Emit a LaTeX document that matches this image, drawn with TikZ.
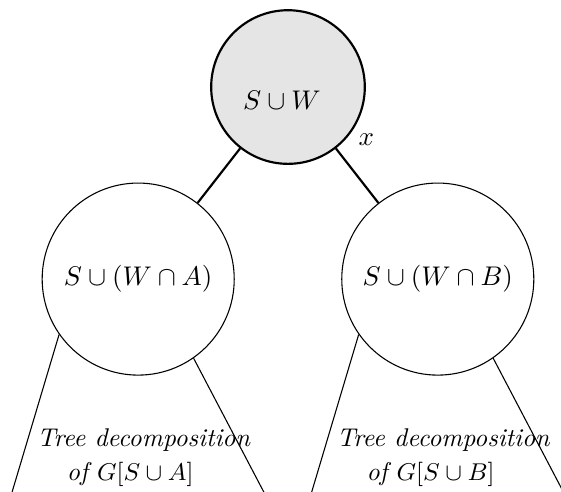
\documentclass[tikz,border=0pt]{standalone}
\usepackage{tikz}
\usetikzlibrary{positioning}
\definecolor{rootgray}{gray}{0.9}

\begin{document}
\begin{tikzpicture}[
  bag/.style={draw, circle, minimum size=#1, inner sep=0pt},
  rootbag/.style={bag=2cm, thick, fill=rootgray},
  childbag/.style={bag=2.5cm},
  treeedge/.style={thick},
  subtree/.style={thin},
  tdtext/.style={font=\fontsize{9.5}{12.6}\selectfont\itshape, align=left}
]
\useasboundingbox (-3.749,1.133) rectangle (3.554,-5.259);

\node[rootbag] (root) at (0,0) {};
\node (rootlabel) at ([shift={(-0.08,-0.17)}]root.center) {$S \cup W$};
\node (xlabel) at ([shift={(1.02,-0.68)}]root.center) {$x$};
\node[childbag] (sa) at (-1.95,-2.5) {$S \cup (W \cap A)$};
\node[childbag] (sb) at (1.95,-2.5) {$S \cup (W \cap B)$};

\draw[treeedge] (root) -- (sa);
\draw[treeedge] (root) -- (sb);

\coordinate (sa-l) at (-3.6,-5.3);
\coordinate (sa-r) at (-0.3,-5.3);
\coordinate (sb-l) at (0.3,-5.3);
\coordinate (sb-r) at (3.6,-5.3);

\draw[subtree] (sa.215) -- (sa-l);
\draw[subtree] (sa.305) -- (sa-r);
\draw[subtree] (sb.215) -- (sb-l);
\draw[subtree] (sb.305) -- (sb-r);

\node[tdtext] (tda) at ([shift={(0.07,-2.32)}]sa.center) {Tree decomposition\\\hspace*{11pt}of $G[S \cup A]$};
\node[tdtext] (tdb) at ([shift={(0.07,-2.32)}]sb.center) {Tree decomposition\\\hspace*{11pt}of $G[S \cup B]$};

\end{tikzpicture}
\end{document}
